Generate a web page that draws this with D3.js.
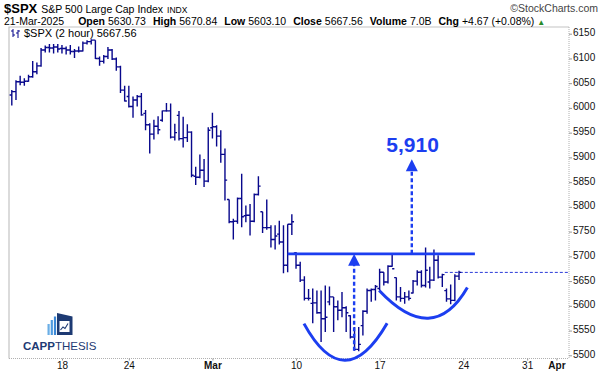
<!DOCTYPE html>
<html>
<head>
<meta charset="utf-8">
<title>SPX 2 hour</title>
<script src="https://cdn.jsdelivr.net/npm/d3@7"></script>
<style>
  body { margin: 0; background: #fff; }
  svg text { font-family: "Liberation Sans", Arial, sans-serif; white-space: pre; }
</style>
</head>
<body>
<script>
// 2-hour bars, four per session, first bar = Feb 12 2025 open
const opens = [6026,6033,6053,6052, 6054,6063,6073,6085, 6117,6122,6121,6123, 6120,6120,6117,6114,
  6115,6115,6131,6134, 6137,6100,6094,6104, 6117,6099,6083,6036, 6023,6003,6016,6023,
  5989,5966,5947,5963, 5975,5994,5994,5941, 5985,5938,5940,5951, 5862,5860,5874,5852,
  5960,5962,5943,5906, 5815,5770,5771,5817, 5782,5783,5771,5825, 5790,5758,5758,5734,
  5745,5729,5682,5765, 5707,5682,5652,5615, 5605,5606,5586,5574, 5608,5618,5598,5591,
  5596,5580,5537,5512, 5560,5589,5631,5633, 5635,5668,5648,5680, 5657,5618,5615,5618,
  5626,5650,5668,5641, 5648,5652,5692,5658, 5630.73,5614,5611,5660];
const highs = [6036,6056,6065,6060, 6067,6095,6092,6121, 6126,6129,6129,6129, 6127,6124,6127,6119,
  6124,6134,6137,6139, 6137,6104,6107,6123, 6119,6102,6085,6045, 6045,6023,6026,6030,
  5996,5969,5976,5983, 5995,6010,6009,5968, 5994,5982,5967,5953, 5881,5906,5897,5961,
  5990,5965,5955,5918, 5815,5776,5819,5867, 5803,5806,5827,5862, 5790,5815,5763,5763,
  5772,5763,5765,5785, 5709,5689,5660,5634, 5635,5631,5631,5641, 5639,5618,5611,5628,
  5599,5581,5557,5557, 5591,5635,5635,5642, 5675,5668,5682,5705, 5657,5638,5628,5631,
  5652,5672,5672,5718, 5679,5714,5702,5665, 5635,5643,5664,5670.84];
const lows = [6005,6016,6046,6045, 6053,6061,6068,6083, 6112,6112,6110,6112, 6110,6108,6108,6101,
  6112,6114,6128,6128, 6099,6085,6090,6099, 6097,6075,6030,6013, 6001,5980,6003,5984,
  5955,5908,5936,5947, 5972,5992,5938,5934, 5934,5920,5931,5860, 5844,5858,5840,5850,
  5938,5922,5889,5813, 5767,5734,5766,5759, 5769,5742,5769,5823, 5747,5754,5718,5714,
  5724,5666,5668,5743, 5675,5648,5611,5611, 5565,5584,5527,5547, 5601,5547,5571,5577,
  5547,5534,5509,5508, 5540,5584,5608,5611, 5631,5641,5645,5679, 5611,5608,5604,5611,
  5625,5641,5637,5637, 5635,5650,5655,5638, 5608,5603.1,5609,5652];
const closes = [6033,6053,6052,6054, 6063,6073,6085,6117, 6122,6121,6123,6119, 6120,6117,6114,6115,
  6115,6131,6134,6137, 6100,6094,6104,6117, 6099,6083,6036,6014, 6003,6016,6023,5986,
  5966,5947,5963,5956, 5994,5994,5941,5950, 5938,5940,5951,5864, 5860,5874,5852,5955,
  5962,5943,5906,5854, 5770,5771,5817,5780, 5783,5771,5825,5842, 5758,5758,5734,5741,
  5729,5682,5765,5770, 5682,5652,5615,5615, 5606,5586,5574,5577, 5618,5598,5591,5596,
  5586,5537,5512,5522, 5589,5631,5633,5639, 5668,5648,5680,5675, 5618,5615,5618,5615,
  5650,5668,5641,5672, 5652,5692,5658,5663, 5614,5611,5660,5667.56];

const lastClose = 5667.56;
const priceTicks = [5500,5550,5600,5650,5700,5750,5800,5850,5900,5950,6000,6050,6100,6150];
const tickIdx = [12, 28, 48, 68, 88, 108, 123.3, 130.3];
const tickLabels = ["18", "24", "Mar", "10", "17", "24", "31", "Apr"];
const tickBold = [false, false, true, false, false, false, false, true];

// annotations in (bar index, price)
const resistance = { price: 5705, from: 66, to: 110.8 };
const arrowBase = [5509, 5705];
const arrowTip = [5705, 5896];
const arrowIdx = [81.9, 95.7];
const target = { label: "5,910", idx: 95.9, price: 5910 };
const bowlLeft = [[69.9, 5564], [79.7, 5490], [89.8, 5565]];
const bowlRight = [[87.9, 5631], [99.6, 5575], [109.0, 5637]];

const W = 607, H = 376;
const plotL = 9, plotR = 569, plotT = 27, plotB = 358.5;
const barColor = "#08088c";
const annColor = "#1c3ef0";

const svg = d3.select("body").append("svg").attr("width", W).attr("height", H);

const x = d3.scaleLinear().domain([0, 133]).range([11.8, 567.7]);
const y = d3.scaleLinear().domain([5500, 6150]).range([355.3, 33.7]);

// frame
svg.append("path")
  .attr("d", `M${plotL},${plotB}V${plotT}H${plotR}`)
  .attr("fill", "none").attr("stroke", "#c4c4c4").attr("stroke-width", 1.2);
svg.append("line").attr("x1", plotR).attr("x2", plotR).attr("y1", plotT).attr("y2", plotB)
  .attr("stroke", "#b0b0b0").attr("stroke-dasharray", "1,1");
svg.append("line").attr("x1", plotL).attr("x2", plotR).attr("y1", plotB).attr("y2", plotB)
  .attr("stroke", "#b0b0b0").attr("stroke-dasharray", "1,1");

// y axis on the right
const yAxis = svg.append("g").attr("transform", `translate(${plotR},0)`)
  .call(d3.axisRight(y).tickValues(priceTicks).tickSize(3).tickPadding(1).tickFormat(d3.format("d")));
yAxis.select(".domain").remove();
yAxis.selectAll("line").attr("stroke", "#999");
yAxis.selectAll("text").attr("font-size", 10).attr("fill", "#111").attr("dy", "0.2em")
  .style("font-family", "'Liberation Sans', Arial, sans-serif");

// x axis
const xAxis = svg.append("g").attr("transform", `translate(0,${plotB})`)
  .call(d3.axisBottom(x).tickValues(tickIdx).tickSize(2).tickPadding(1)
    .tickFormat((d, i) => tickLabels[i]));
xAxis.select(".domain").remove();
xAxis.selectAll("line").attr("stroke", "#999");
xAxis.selectAll("text").attr("font-size", 10).attr("fill", "#111")
  .attr("font-weight", (d, i) => tickBold[i] ? "bold" : "normal")
  .style("font-family", "'Liberation Sans', Arial, sans-serif");

// last close dashed line
svg.append("line")
  .attr("x1", x(103.6)).attr("x2", plotR)
  .attr("y1", y(lastClose)).attr("y2", y(lastClose))
  .attr("stroke", "#2a3ad8").attr("stroke-width", 1).attr("stroke-dasharray", "3,2");

// OHLC bars
const idx = d3.range(closes.length);
svg.append("g").selectAll("path").data(idx).enter().append("path")
  .attr("d", i => {
    const cx = x(i);
    return `M${cx},${y(highs[i])}V${y(lows[i])}` +
      `M${cx - 2.2},${y(opens[i])}H${cx}` +
      `M${cx},${y(closes[i])}H${cx + 2.2}`;
  })
  .attr("fill", "none").attr("stroke", barColor).attr("stroke-width", 1.4);

// annotations
const ann = svg.append("g");
ann.append("line")
  .attr("x1", x(resistance.from)).attr("x2", x(resistance.to))
  .attr("y1", y(resistance.price)).attr("y2", y(resistance.price))
  .attr("stroke", annColor).attr("stroke-width", 2.6);

arrowIdx.forEach((ai, k) => {
  const ax = x(ai), yTip = y(arrowTip[k]), yBase = y(arrowBase[k]);
  ann.append("line")
    .attr("x1", ax).attr("x2", ax).attr("y1", yBase).attr("y2", yTip + 11)
    .attr("stroke", annColor).attr("stroke-width", 2.4).attr("stroke-dasharray", "4,2.5");
  ann.append("path")
    .attr("d", `M${ax},${yTip}L${ax + 6},${yTip + 12}L${ax - 6},${yTip + 12}Z`)
    .attr("fill", annColor);
});

ann.append("text")
  .attr("x", x(target.idx)).attr("y", y(target.price))
  .attr("text-anchor", "middle").attr("font-size", 21).attr("font-weight", "bold")
  .attr("fill", annColor).text(target.label);

function bowl(pts) {
  const p0 = [x(pts[0][0]), y(pts[0][1])];
  const b = [x(pts[1][0]), y(pts[1][1])];
  const p2 = [x(pts[2][0]), y(pts[2][1])];
  const c = [2 * b[0] - (p0[0] + p2[0]) / 2, 2 * b[1] - (p0[1] + p2[1]) / 2];
  return `M${p0}Q${c} ${p2}`;
}
[bowlLeft, bowlRight].forEach(pts => {
  ann.append("path").attr("d", bowl(pts))
    .attr("fill", "none").attr("stroke", annColor).attr("stroke-width", 3);
});

// header
const h1 = svg.append("text").attr("x", 4).attr("y", 13).attr("fill", "#000");
h1.append("tspan").attr("font-size", 13).attr("font-weight", "bold").text("$SPX");
h1.append("tspan").attr("font-size", 10.5).attr("dx", 4).text("S&P 500 Large Cap Index");
h1.append("tspan").attr("font-size", 8.5).attr("dx", 4).text("INDX");

svg.append("text").attr("x", 598).attr("y", 12).attr("text-anchor", "end")
  .attr("font-size", 10.5).attr("fill", "#444").text("\u00a9StockCharts.com");

const h2 = svg.append("text").attr("x", 4).attr("y", 25).attr("font-size", 10.5).attr("fill", "#000");
const stats = [["Open", "5630.73"], ["High", "5670.84"], ["Low", "5603.10"], ["Close", "5667.56"],
  ["Volume", "7.0B"], ["Chg", "+4.67 (+0.08%)"]];
h2.append("tspan").text("21-Mar-2025");
stats.forEach((s, k) => {
  h2.append("tspan").attr("dx", k === 0 ? 14 : 7).attr("font-weight", "bold").text(s[0]);
  h2.append("tspan").attr("dx", 3).text(s[1]);
});
h2.append("tspan").attr("dx", 3).attr("fill", "#2a8a2a").attr("font-size", 8).text("\u25b2");

// legend inside chart
const lg = svg.append("g");
lg.append("path")
  .attr("d", "M13,29V37M11,31H13M13,35H15M18,30V38M16,33H18M18,31H20")
  .attr("stroke", barColor).attr("stroke-width", 1).attr("fill", "none");
lg.append("text").attr("x", 24).attr("y", 37).attr("font-size", 11).attr("fill", "#000")
  .text("$SPX (2 hour) 5667.56");

// CappThesis logo
const logo = svg.append("g");
logo.append("rect").attr("x", 47.5).attr("y", 324).attr("width", 2.2).attr("height", 11).attr("fill", "#6aaee6");
logo.append("rect").attr("x", 50.7).attr("y", 320).attr("width", 2.2).attr("height", 15).attr("fill", "#4f9be0");
logo.append("rect").attr("x", 53.9).attr("y", 316.5).attr("width", 2.2).attr("height", 18.5).attr("fill", "#3c88d6");
logo.append("path").attr("d", "M57,313L72.5,316.5V335H57Z").attr("fill", "#1d3a73");
logo.append("rect").attr("x", 59.5).attr("y", 321).attr("width", 10).attr("height", 11).attr("fill", "#fff");
logo.append("path").attr("d", "M60.5,330L63,327L65,328.5L68,323.5").attr("stroke", "#1d3a73")
  .attr("stroke-width", 1.1).attr("fill", "none");
const lt = logo.append("text").attr("x", 23).attr("y", 350).attr("font-size", 11.5).attr("fill", "#1d3a73");
lt.append("tspan").attr("font-weight", "bold").text("CAPP");
lt.append("tspan").text("THESIS");
</script>
</body>
</html>
